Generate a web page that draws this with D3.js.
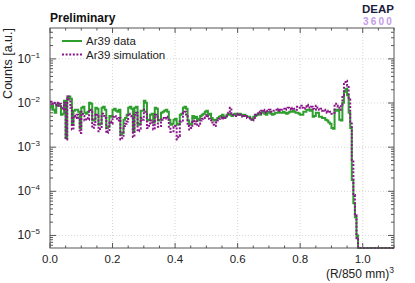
<!DOCTYPE html>
<html>
<head>
<meta charset="utf-8">
<script src="https://cdn.jsdelivr.net/npm/d3@7"></script>
<style>
  html, body { margin: 0; padding: 0; background: #fff; }
  svg { display: block; font-family: "Liberation Sans", Arial, Helvetica, sans-serif; }
</style>
</head>
<body>
<svg width="415" height="283"></svg>
<script>
// histogram bins of width 0.005 starting at 0; bins after the last entry are empty
const binWidth = 0.005;
const xMax = 1.1;

const dataCounts = [
  0.0078, 0.0087, 0.0070, 0.0060, 0.0091, 0.0096, 0.0087, 0.0054, 0.0057, 0.0113,
  0.0016, 0.013, 0.014, 0.0125, 0.0032, 0.0067, 0.0070, 0.0070, 0.0063, 0.0027,
  0.0078, 0.0082, 0.0060, 0.0057, 0.0063, 0.0102, 0.0096, 0.0040, 0.0042, 0.0078,
  0.0074, 0.0032, 0.0034, 0.0078, 0.0082, 0.0070, 0.0027, 0.0029, 0.0051, 0.0049,
  0.0070, 0.0074, 0.0067, 0.0063, 0.0070, 0.0019, 0.0021, 0.0042, 0.0046, 0.0054,
  0.0078, 0.0082, 0.0074, 0.0023, 0.0078, 0.0082, 0.0032, 0.0034, 0.0067, 0.0067,
  0.0113, 0.0102, 0.0040, 0.0042, 0.0054, 0.0057, 0.0036, 0.0078, 0.0074, 0.0040,
  0.0042, 0.0060, 0.0063, 0.0067, 0.0070, 0.0063, 0.0042, 0.0032, 0.0034, 0.0042,
  0.0044, 0.0032, 0.0034, 0.0054, 0.0057, 0.0078, 0.0082, 0.0074, 0.0040, 0.0032,
  0.0034, 0.0051, 0.0046, 0.0049, 0.0040, 0.0044, 0.0051, 0.0054, 0.0057, 0.0063,
  0.0067, 0.0054, 0.0057, 0.0046, 0.0042, 0.0040, 0.0042, 0.0046, 0.0049, 0.0051,
  0.0054, 0.0046, 0.0049, 0.0054, 0.0057, 0.0054, 0.0051, 0.0054, 0.0057, 0.0054,
  0.0054, 0.0057, 0.0054, 0.0051, 0.0054, 0.0051, 0.0049, 0.0049, 0.0044, 0.0042,
  0.0049, 0.0051, 0.0054, 0.0057, 0.0054, 0.0060, 0.0063, 0.0057, 0.0054, 0.0060,
  0.0063, 0.0057, 0.0054, 0.0057, 0.0060, 0.0060, 0.0063, 0.0060, 0.0060, 0.0063,
  0.0060, 0.0057, 0.0060, 0.0063, 0.0063, 0.0067, 0.0063, 0.0060, 0.0060, 0.0057,
  0.0054, 0.0054, 0.0063, 0.0063, 0.0070, 0.0070, 0.0067, 0.0070, 0.0049, 0.0051,
  0.0060, 0.0060, 0.0049, 0.0049, 0.0046, 0.0046, 0.0042, 0.0040, 0.0036, 0.0034,
  0.0027, 0.0026, 0.0070, 0.0067, 0.0070, 0.0042, 0.0040, 0.0102, 0.018, 0.021,
  0.015, 0.0060, 0.0027, 0.00018, 0.000054, 0.000026, 0.000010
];

const simCounts = [
  0.0107, 0.0096, 0.0102, 0.0091, 0.0102, 0.0087, 0.0096, 0.0078, 0.0070, 0.0102,
  0.0015, 0.014, 0.012, 0.0078, 0.0025, 0.0051, 0.0046, 0.0054, 0.0042, 0.0021,
  0.0063, 0.0051, 0.0040, 0.0046, 0.0042, 0.0070, 0.0063, 0.0027, 0.0032, 0.0057,
  0.0051, 0.0023, 0.0026, 0.0057, 0.0051, 0.0046, 0.0021, 0.0023, 0.0038, 0.0034,
  0.0049, 0.0051, 0.0044, 0.0040, 0.0046, 0.0015, 0.0016, 0.0030, 0.0034, 0.0038,
  0.0057, 0.0051, 0.0046, 0.0017, 0.0054, 0.0060, 0.0023, 0.0026, 0.0046, 0.0042,
  0.0070, 0.0063, 0.0027, 0.0030, 0.0040, 0.0036, 0.0025, 0.0054, 0.0049, 0.0029,
  0.0030, 0.0042, 0.0046, 0.0044, 0.0049, 0.0042, 0.0029, 0.0022, 0.0023, 0.0029,
  0.0030, 0.0015, 0.0018, 0.0038, 0.0040, 0.0060, 0.0063, 0.0051, 0.0030, 0.0025,
  0.0027, 0.0040, 0.0034, 0.0038, 0.0030, 0.0034, 0.0040, 0.0044, 0.0046, 0.0051,
  0.0054, 0.0044, 0.0042, 0.0036, 0.0032, 0.0030, 0.0036, 0.0040, 0.0044, 0.0046,
  0.0049, 0.0044, 0.0046, 0.0051, 0.0060, 0.0078, 0.0057, 0.0054, 0.0051, 0.0054,
  0.0057, 0.0054, 0.0051, 0.0049, 0.0051, 0.0049, 0.0046, 0.0046, 0.0042, 0.0040,
  0.0046, 0.0054, 0.0057, 0.0063, 0.0057, 0.0067, 0.0070, 0.0063, 0.0060, 0.0067,
  0.0070, 0.0063, 0.0063, 0.0067, 0.0070, 0.0067, 0.0074, 0.0067, 0.0070, 0.0074,
  0.0070, 0.0074, 0.0078, 0.0074, 0.0070, 0.0078, 0.0074, 0.0070, 0.0082, 0.0078,
  0.0087, 0.0078, 0.0074, 0.0082, 0.0091, 0.0087, 0.0078, 0.0082, 0.0074, 0.0070,
  0.0087, 0.0078, 0.0070, 0.0074, 0.0067, 0.0070, 0.0063, 0.0060, 0.0067, 0.0063,
  0.0057, 0.0060, 0.0096, 0.0087, 0.0082, 0.0070, 0.0091, 0.015, 0.027, 0.032,
  0.025, 0.012, 0.0038, 0.00051, 0.000082, 0.000029, 0.0000087
];

const xTicks = [0, 0.2, 0.4, 0.6, 0.8, 1.0];
const xMinorStep = 0.05;
const yDecades = [1e-5, 1e-4, 1e-3, 1e-2, 1e-1];
const yExponents = ['\u22125', '\u22124', '\u22123', '\u22122', '\u22121'];
const yDomain = [5.2e-6, 0.5];

const series = [
  { name: 'Ar39 data', values: dataCounts, color: '#2e9e2e', dash: null, width: 2 },
  { name: 'Ar39 simulation', values: simCounts, color: '#8a168a', dash: '2,1.6', width: 2 }
];

const margin = { left: 50, right: 21, top: 28, bottom: 35 };
const svg = d3.select('svg');
const width = 415 - margin.left - margin.right;
const height = 283 - margin.top - margin.bottom;
const g = svg.append('g').attr('transform', `translate(${margin.left},${margin.top})`);

const x = d3.scaleLinear().domain([0, xMax]).range([0, width]);
const y = d3.scaleLog().domain(yDomain).range([height, 0]);

const frameColor = '#555';
const textColor = '#222';

// grid
g.append('g').selectAll('line').data(xTicks.filter(d => d > 0)).join('line')
  .attr('x1', d => x(d)).attr('x2', d => x(d)).attr('y1', 0).attr('y2', height)
  .attr('stroke', '#ccc').attr('stroke-width', 0.8).attr('stroke-dasharray', '1,2');
g.append('g').selectAll('line').data(yDecades).join('line')
  .attr('x1', 0).attr('x2', width).attr('y1', d => y(d)).attr('y2', d => y(d))
  .attr('stroke', '#ccc').attr('stroke-width', 0.8).attr('stroke-dasharray', '1,2');

// minor / major tick positions
const xMinor = d3.range(0, xMax + 1e-9, xMinorStep).filter(v => !xTicks.some(t => Math.abs(t - v) < 1e-9));
const yMinor = [];
yDecades.concat([1e-6]).forEach(dec => {
  for (let k = 2; k <= 9; k++) {
    const v = dec * k;
    if (v > yDomain[0] && v < yDomain[1]) yMinor.push(v);
  }
});

const ticks = g.append('g').attr('stroke', frameColor).attr('stroke-width', 1);
function tickLines(data, fn) {
  ticks.append('g').selectAll('line').data(data).join('line').each(function (d) {
    const p = fn(d);
    d3.select(this).attr('x1', p[0]).attr('y1', p[1]).attr('x2', p[2]).attr('y2', p[3]);
  });
}
// bottom & top
tickLines(xTicks, d => [x(d), height, x(d), height - 5]);
tickLines(xMinor, d => [x(d), height, x(d), height - 2.5]);
tickLines(xTicks, d => [x(d), 0, x(d), 5]);
tickLines(xMinor, d => [x(d), 0, x(d), 2.5]);
// left & right
tickLines(yDecades, d => [0, y(d), 6, y(d)]);
tickLines(yMinor, d => [0, y(d), 3, y(d)]);
tickLines(yDecades, d => [width, y(d), width - 6, y(d)]);
tickLines(yMinor, d => [width, y(d), width - 3, y(d)]);

// histograms
const clipId = 'plotclip';
g.append('clipPath').attr('id', clipId).append('rect')
  .attr('x', 0).attr('y', -1).attr('width', width).attr('height', height + 2);

function stepPoints(values) {
  const nBins = Math.round(xMax / binWidth);
  const pts = [];
  for (let i = 0; i < nBins; i++) {
    const v = i < values.length ? values[i] : 0;
    const yy = v > 0 ? Math.min(y(v), height) : height;
    pts.push([x(i * binWidth), yy], [x((i + 1) * binWidth), yy]);
  }
  return pts;
}
const line = d3.line();
const plot = g.append('g').attr('clip-path', `url(#${clipId})`);
series.forEach(s => {
  plot.append('path')
    .attr('d', line(stepPoints(s.values)))
    .attr('fill', 'none')
    .attr('stroke', s.color)
    .attr('stroke-width', s.width)
    .attr('stroke-dasharray', s.dash)
    .attr('stroke-linejoin', 'miter');
});

// frame
g.append('rect').attr('x', 0).attr('y', 0).attr('width', width).attr('height', height)
  .attr('fill', 'none').attr('stroke', frameColor).attr('stroke-width', 1);

// x labels
g.append('g').selectAll('text').data(xTicks).join('text')
  .attr('x', d => x(d)).attr('y', height + 15)
  .attr('text-anchor', 'middle').attr('font-size', 11.5).attr('fill', textColor)
  .text(d3.format('.1f'));

// y labels
const yl = g.append('g').selectAll('text').data(yDecades).join('text')
  .attr('x', -10).attr('y', d => y(d) + 4)
  .attr('text-anchor', 'end').attr('font-size', 12).attr('fill', textColor);
yl.append('tspan').text('10');
yl.append('tspan').attr('dy', -5).attr('font-size', 8).text((d, i) => yExponents[i]);

// axis titles
const xt = svg.append('text').attr('x', margin.left + width).attr('y', 278)
  .attr('text-anchor', 'end').attr('font-size', 12).attr('fill', textColor);
xt.append('tspan').text('(R/850 mm)');
xt.append('tspan').attr('dy', -5).attr('font-size', 8.5).text('3');

svg.append('text')
  .attr('transform', `translate(12,${margin.top}) rotate(-90)`)
  .attr('text-anchor', 'end').attr('font-size', 12.5).attr('fill', textColor)
  .text('Counts [a.u.]');

// header texts
svg.append('text').attr('x', margin.left).attr('y', 22)
  .attr('font-size', 12).attr('font-weight', 'bold').attr('fill', '#111')
  .text('Preliminary');
svg.append('text').attr('x', 394).attr('y', 13)
  .attr('text-anchor', 'end').attr('font-size', 11.5).attr('font-weight', 'bold').attr('fill', '#1c1c3c')
  .text('DEAP');
svg.append('text').attr('x', 394).attr('y', 25)
  .attr('text-anchor', 'end').attr('font-size', 10).attr('font-weight', 'bold')
  .attr('letter-spacing', 2.2).attr('fill', '#c59be8')
  .text('3600');

// legend
const legend = svg.append('g');
series.forEach((s, i) => {
  const ly = 41 + i * 13.5;
  legend.append('line').attr('x1', 62).attr('x2', 82).attr('y1', ly).attr('y2', ly)
    .attr('stroke', s.color).attr('stroke-width', s.width).attr('stroke-dasharray', s.dash);
  legend.append('text').attr('x', 86).attr('y', ly + 4)
    .attr('font-size', 11.5).attr('fill', textColor).text(s.name);
});
</script>
</body>
</html>
